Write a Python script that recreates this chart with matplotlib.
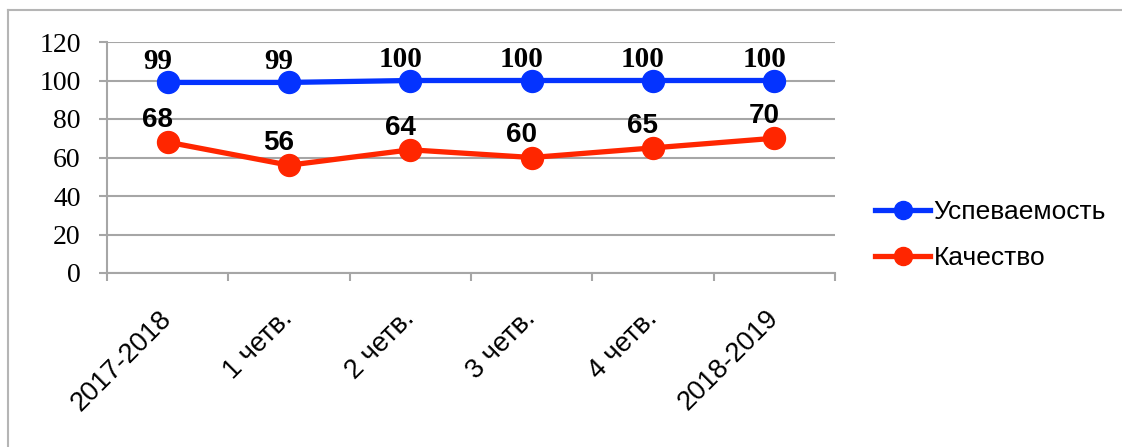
import matplotlib
matplotlib.use("Agg")
import matplotlib.pyplot as plt
from matplotlib.lines import Line2D
import numpy as np

# данные графика
categories = ["2017-2018", "1 четв.", "2 четв.", "3 четв.", "4 четв.", "2018-2019"]
uspevaemost = [99, 99, 100, 100, 100, 100]
kachestvo = [68, 56, 64, 60, 65, 70]
y_ticks = [0, 20, 40, 60, 80, 100, 120]

blue = "#0433FF"
red = "#FF2600"
grid_gray = "#a6a6a6"

W, H = 1122, 447
fig = plt.figure(figsize=(W / 100, H / 100), dpi=100)
ax = fig.add_axes([107 / W, 1 - 273 / H, (835 - 107) / W, (273 - 42) / H])

x = np.arange(len(categories))
ax.plot(x, uspevaemost, color=blue, lw=3.8, marker="o", ms=15.8, zorder=3, clip_on=False)
ax.plot(x, kachestvo, color=red, lw=3.8, marker="o", ms=15.8, zorder=3, clip_on=False)

ax.set_xlim(-0.5, len(categories) - 0.5)
ax.set_ylim(0, 120)
ax.set_yticks(y_ticks)
ax.set_yticklabels([str(v) for v in y_ticks], family="Liberation Serif", fontsize=20)
ax.tick_params(axis="y", length=6, width=1.5, color=grid_gray, pad=13)

ax.set_xticks(x)
ax.set_xticklabels(categories, family="Liberation Sans", fontsize=19.5,
                   rotation=45, ha="right", va="center", rotation_mode="anchor")
ax.tick_params(axis="x", which="major", length=0, pad=30)
ax.set_xticks(np.arange(-0.5, len(categories)), minor=True)
ax.tick_params(axis="x", which="minor", length=6, width=1.5, color=grid_gray)

for s in ["top", "right"]:
    ax.spines[s].set_visible(False)
for s in ["left", "bottom"]:
    ax.spines[s].set_color(grid_gray)
    ax.spines[s].set_linewidth(1.5)
ax.yaxis.grid(True, color=grid_gray, lw=1.5)
ax.set_axisbelow(True)

# подписи значений
for xi, v in zip(x, uspevaemost):
    ax.annotate(str(v), (xi, v), xytext=(-10, 21), textcoords="offset pixels",
                ha="center", va="center", fontsize=21, fontweight="bold",
                family="Liberation Serif", zorder=4, annotation_clip=False)
for xi, v in zip(x, kachestvo):
    ax.annotate(str(v), (xi, v), xytext=(-10, 22), textcoords="offset pixels",
                ha="center", va="center", fontsize=20, fontweight="bold",
                family="Liberation Sans", zorder=4, annotation_clip=False)

# легенда
handles = [Line2D([], [], color=blue, lw=3.8, marker="o", ms=13),
           Line2D([], [], color=red, lw=3.8, marker="o", ms=13)]
fig.legend(handles, ["Успеваемость", "Качество"], loc="center left",
           bbox_to_anchor=(875 / W, 1 - 235 / H), frameon=False,
           prop={"family": "Liberation Sans", "size": 19},
           handlelength=2.1, handletextpad=0.12, labelspacing=0.85,
           borderpad=0, borderaxespad=0)

# рамка диаграммы
fig.add_artist(Line2D([8 / W, 1], [1 - 10 / H, 1 - 10 / H], color="#b5b5b5", lw=1.5))
fig.add_artist(Line2D([8 / W, 8 / W], [1 - 10 / H, 0], color="#b5b5b5", lw=1.5))

fig.savefig("out.png", dpi=100)
